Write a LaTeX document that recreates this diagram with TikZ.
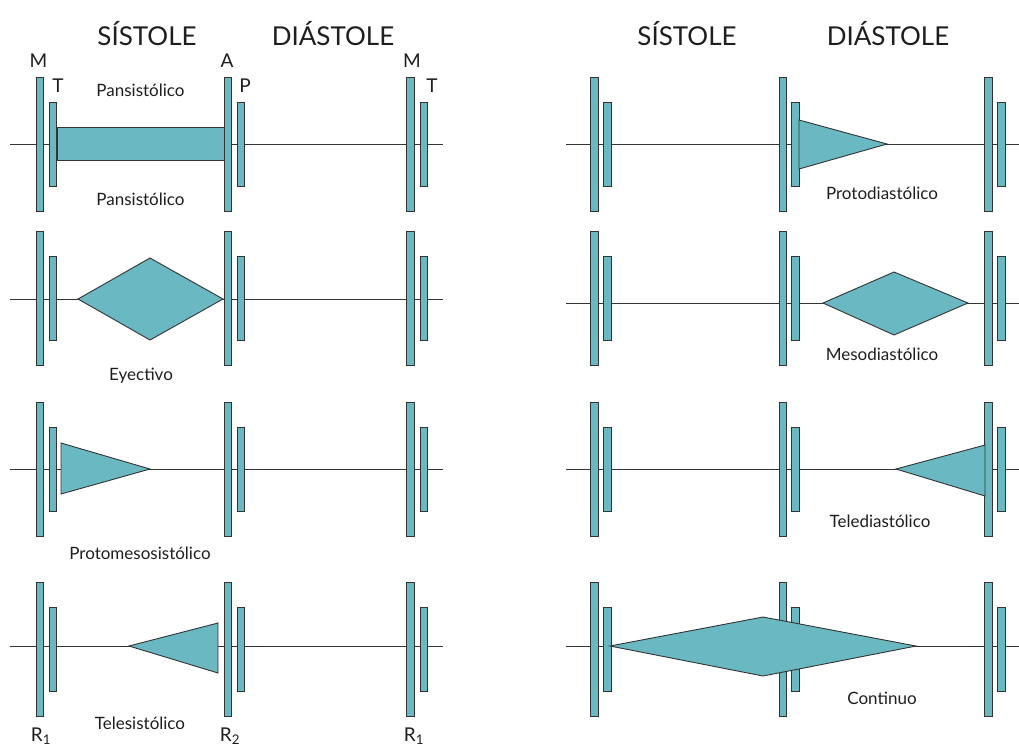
\documentclass[tikz,border=0pt]{standalone}
\usepackage{fontspec}
\setmainfont{Lato}
\definecolor{murmur}{HTML}{6AB8C2}
\definecolor{edge}{HTML}{333333}
\definecolor{ink}{HTML}{1E1E1E}
\tikzset{
  longbar/.style={draw=edge, fill=murmur, line width=0.8pt, minimum width=7.4pt, minimum height=134pt, inner sep=0pt, outer sep=0pt, anchor=north},
  shortbar/.style={longbar, minimum height=84pt},
  murmurshape/.style={draw=edge, fill=murmur, line width=0.9pt, line join=miter},
  baseline/.style={draw=edge, line width=0.9pt},
  lbl/.style={font=\fontsize{17}{17}\selectfont, text=ink, inner sep=0pt, anchor=base},
  heading/.style={font=\fontsize{26}{26}\selectfont, text=ink, inner sep=0pt, anchor=base},
  valve/.style={font=\fontsize{19}{19}\selectfont, text=ink, inner sep=0pt, anchor=base}
}
\begin{document}
\begin{tikzpicture}[x=1pt,y=-1pt]
\useasboundingbox (0,0) rectangle (1019,748);
% left panel rows
\foreach \r/\top/\ly in {1/77/144, 2/231/299, 3/402/469, 4/582/646} {
  \coordinate (Ls\r) at (10,\ly);
  \coordinate (Le\r) at (443,\ly);
  \draw[baseline] (Ls\r) -- (Le\r);
  \foreach \i/\x in {1/40,3/228,5/410.5} \node[longbar] (L\r-\i) at (\x,\top) {};
  \foreach \i/\x in {2/53,4/241,6/424} \node[shortbar] (L\r-\i) at (\x,\top+25) {};
}
% right panel rows
\foreach \r/\top/\ly in {1/77/144, 2/231/303, 3/402/469, 4/582/646} {
  \coordinate (Rs\r) at (566,\ly);
  \coordinate (Re\r) at (1025,\ly);
  \draw[baseline] (Rs\r) -- (Re\r);
  \foreach \i/\x in {1/594.5,3/783,5/988.5} \node[longbar] (R\r-\i) at (\x,\top) {};
  \foreach \i/\x in {2/607.5,4/795.5,6/1001.5} \node[shortbar] (R\r-\i) at (\x,\top+25) {};
}
% murmurs, left
\draw[murmurshape] (57,127) rectangle (224,160);
\draw[murmurshape] (78,299) -- (150,258) -- (223,299) -- (150,340) -- cycle;
\draw[murmurshape] (61,443) -- (150,469) -- (61,494) -- cycle;
\draw[murmurshape] (129,646) -- (218,623) -- (218,673) -- cycle;
% murmurs, right
\draw[murmurshape] (799,120) -- (887,144) -- (799,169) -- cycle;
\draw[murmurshape] (823,303) -- (894,272) -- (968,303) -- (894,335) -- cycle;
\draw[murmurshape] (896,469) -- (985,445) -- (985,496) -- cycle;
\draw[murmurshape] (610,646) -- (763,617) -- (916,646) -- (763,676) -- cycle;
% headings
\node[heading] (hs1) at (147,45) {SÍSTOLE};
\node[heading] (hd1) at (333,45) {DIÁSTOLE};
\node[heading] (hs2) at (687,45) {SÍSTOLE};
\node[heading] (hd2) at (888,45) {DIÁSTOLE};
% valve labels
\node[valve] (vM1) at (38.5,67) {M};
\node[valve] (vT1) at (58,92) {T};
\node[valve] (vA) at (227,67) {A};
\node[valve] (vP) at (245,92) {P};
\node[valve] (vM2) at (412,67) {M};
\node[valve] (vT2) at (432,92) {T};
\node[valve] (vR1a) at (41,741) {R\textsubscript{1}};
\node[valve] (vR2) at (230,741) {R\textsubscript{2}};
\node[valve] (vR1b) at (414,741) {R\textsubscript{1}};
% murmur labels
\node[lbl] (t1) at (140.5,96) {Pansistólico};
\node[lbl] (t2) at (140.5,205) {Pansistólico};
\node[lbl] (t3) at (141,380) {Eyectivo};
\node[lbl] (t4) at (140,559) {Protomesosistólico};
\node[lbl] (t5) at (140,729) {Telesistólico};
\node[lbl] (t6) at (882,199) {Protodiastólico};
\node[lbl] (t7) at (882,360) {Mesodiastólico};
\node[lbl] (t8) at (880,527) {Telediastólico};
\node[lbl] (t9) at (882,704) {Continuo};
\end{tikzpicture}
\end{document}
